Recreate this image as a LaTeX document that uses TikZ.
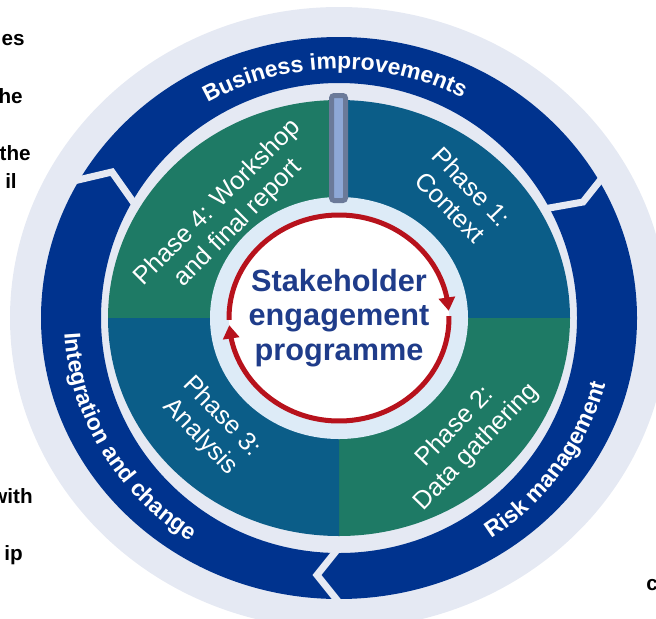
\documentclass[tikz,border=0pt]{standalone}
\usepackage{fontspec}
\setmainfont{Liberation Sans}
\usetikzlibrary{arrows.meta,bending,decorations.text}
\definecolor{bgring}{HTML}{E5E9F3}
\definecolor{ringblue}{HTML}{00338E}
\definecolor{phgreen}{HTML}{1E7A65}
\definecolor{phteal}{HTML}{0B5D88}
\definecolor{pale}{HTML}{DDEBF7}
\definecolor{arrred}{HTML}{B7121C}
\definecolor{ctrblue}{HTML}{1F3C8A}
\definecolor{barfill}{HTML}{8EA8D6}
\definecolor{barline}{HTML}{6B7A99}
\newcommand\ringfont{\fontsize{17.2}{19}\selectfont\bfseries}
\begin{document}
\begin{tikzpicture}[x=0.75pt,y=0.75pt,
  gapline/.style={draw=bgring,line width=5.25pt,line join=miter},
  redarrow/.style={draw=arrred,line width=3.75pt,-{Triangle[width=12pt,length=10pt,flex]}},
  phasetext/.style={text=white,font=\fontsize{19}{22}\selectfont,align=center,inner sep=0pt},
  ctrtext/.style={text=ctrblue,font=\fontsize{23}{26}\selectfont\bfseries,align=center,inner sep=0pt},
  fragtext/.style={text=black,font=\fontsize{15.5}{17}\selectfont\bfseries,inner sep=0pt},
  ringtext/.style={decorate,decoration={text along path,text align=center,text color=white,text={|\ringfont|#1}}}
]
\useasboundingbox (0,0) rectangle (656,-618);
\clip (0,0) rectangle (656,-618);
\coordinate (C) at (339,-318);
% outer light ring
\fill[bgring] (C) ellipse [x radius=329,y radius=311];
% dark blue ring
\fill[ringblue,even odd rule] (C) ellipse [x radius=298,y radius=281] (C) ellipse [x radius=238,y radius=235];
% chevron gaps
\coordinate (gAo) at (61,-184);
\coordinate (gAt) at (112,-172);
\coordinate (gAi) at (136,-206);
\coordinate (gBo) at (606,-173);
\coordinate (gBt) at (583,-202);
\coordinate (gBi) at (538,-210);
\coordinate (gCo) at (345,-610);
\coordinate (gCt) at (317,-575);
\coordinate (gCi) at (345,-540);
\draw[gapline] (gAo) -- (gAt) -- (gAi);
\draw[gapline] (gBo) -- (gBt) -- (gBi);
\draw[gapline] (gCo) -- (gCt) -- (gCi);
% phases
\fill[phgreen] (C) -- ++(180:231 and 218) arc[start angle=180,end angle=90,x radius=231,y radius=218] -- cycle;
\fill[phteal] (C) -- ++(90:231 and 218) arc[start angle=90,end angle=0,x radius=231,y radius=218] -- cycle;
\fill[phgreen] (C) -- ++(0:231 and 218) arc[start angle=0,end angle=-90,x radius=231,y radius=218] -- cycle;
\fill[phteal] (C) -- ++(-90:231 and 218) arc[start angle=-90,end angle=-180,x radius=231,y radius=218] -- cycle;
% inner discs
\fill[pale] (C) ellipse [x radius=129,y radius=121];
\fill[white] (C) ellipse [x radius=110,y radius=103];
% red cycle arrows
\draw[redarrow] (C) ++(181:110 and 103) arc[start angle=181,end angle=4,x radius=110,y radius=103];
\draw[redarrow] (C) ++(1:110 and 103) arc[start angle=1,end angle=-176,x radius=110,y radius=103];
% gray bar
\draw[draw=barline,fill=barfill,line width=3.75pt,rounded corners=2pt] (331.5,-95.5) rectangle (345.5,-200.5);
% ring texts
\path[ringtext={Business improvements}] (C) ++(136:261 and 249) arc[start angle=136,end angle=46,x radius=261,y radius=249];
\path[ringtext={Risk management}] (C) ++(-80:275 and 265) arc[start angle=-80,end angle=10,x radius=275,y radius=265];
\path[ringtext={Integration and change}] (C) ++(165:275 and 265) arc[start angle=165,end angle=255,x radius=275,y radius=265];
% phase texts
\node[phasetext,rotate=-46] (p1) at (461,-197) {Phase 1:\\Context};
\node[phasetext,rotate=46] (p2) at (466,-437) {Phase 2:\\Data gathering};
\node[phasetext,rotate=-46] (p3) at (211,-427) {Phase 3:\\Analysis};
\node[phasetext,rotate=45] (p4) at (228,-213) {Phase 4: Workshop\\and final report};
% centre
\node[ctrtext] (title) at (339,-318) {Stakeholder\\engagement\\programme};
% clipped fragments of neighbouring text
\node[fragtext,anchor=base east] (f1) at (25,-45) {es};
\node[fragtext,anchor=base east] (f2) at (23,-103) {he};
\node[fragtext,anchor=base east] (f3) at (31,-160) {the};
\node[fragtext,anchor=base east] (f4) at (17,-188) {il};
\node[fragtext,anchor=base east] (f5) at (33,-503) {with};
\node[fragtext,anchor=base east] (f6) at (23,-560) {ip};
\node[fragtext,anchor=base west] (f7) at (646,-590) {c};
\end{tikzpicture}
\end{document}
